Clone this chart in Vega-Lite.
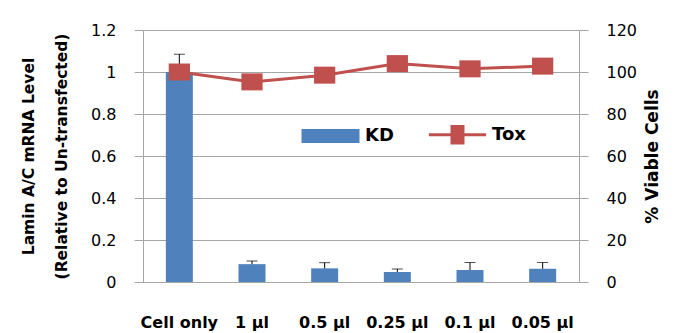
{
  "$schema": "https://vega.github.io/schema/vega-lite/v6.json",
  "width": 436,
  "height": 252,
  "autosize": "none",
  "padding": {"left": 143, "top": 30, "right": 95, "bottom": 51},
  "background": "white",
  "config": {
    "font": "DejaVu Sans",
    "view": {"stroke": null},
    "axis": {"labelColor": "#000000", "titleColor": "#000000"}
  },
  "data": {
    "values": [
      {"cond": "Cell only", "kd": 1.0, "kdErr": 1.085, "tox": 100},
      {"cond": "1 µl", "kd": 0.085, "kdErr": 0.1, "tox": 95.3},
      {"cond": "0.5 µl", "kd": 0.065, "kdErr": 0.092, "tox": 98.5},
      {"cond": "0.25 µl", "kd": 0.048, "kdErr": 0.062, "tox": 104},
      {"cond": "0.1 µl", "kd": 0.057, "kdErr": 0.093, "tox": 101.5},
      {"cond": "0.05 µl", "kd": 0.063, "kdErr": 0.093, "tox": 102.8}
    ]
  },
  "encoding": {
    "x": {
      "field": "cond",
      "type": "nominal",
      "sort": null,
      "scale": {"paddingInner": 0, "paddingOuter": 0},
      "axis": {
        "title": null,
        "labelAngle": 0,
        "ticks": false,
        "domainColor": "#A6A6A6",
        "labelFontWeight": "bold",
        "labelFontSize": 16,
        "labelPadding": 32
      }
    }
  },
  "layer": [
    {
      "layer": [
        {
          "mark": {"type": "bar", "size": 27},
          "encoding": {
            "y": {
              "field": "kd",
              "type": "quantitative",
              "scale": {"domain": [0, 1.2], "nice": false},
              "axis": {
                "orient": "left",
                "values": [0, 0.2, 0.4, 0.6, 0.8, 1, 1.2],
                "format": "~g",
                "title": ["Lamin A/C mRNA Level", "(Relative to Un-transfected)"],
                "titleFontWeight": "bold",
                "titleFontSize": 15.5,
                "titleLineHeight": 33,
                "titlePadding": 21,
                "grid": true,
                "gridColor": "#A6A6A6",
                "tickSize": 9,
                "tickColor": "#A6A6A6",
                "domainColor": "#A6A6A6",
                "labelFontSize": 16,
                "labelPadding": 18
              }
            },
            "color": {
              "datum": "KD",
              "type": "nominal",
              "scale": {"domain": ["KD", "Tox"], "range": ["#4F81BD", "#C0504D"]},
              "legend": {
                "title": null,
                "orient": "none",
                "direction": "horizontal",
                "legendX": 175,
                "legendY": 92,
                "padding": 0,
                "symbolSize": 484,
                "labelOffset": 22,
                "columnPadding": 28,
                "labelFontSize": 18,
                "labelFontWeight": "bold",
                "labelColor": "#000000",
                "labelFont": "DejaVu Sans",
                "encode": {
                  "symbols": {
                    "update": {
                      "shape": {"signal": "datum.value === 'KD' ? 'M-2.5,-0.5H2.5V0.5H-2.5Z' : 'M-2.6,0H2.6M-0.5,-0.75H0.5V0.75H-0.5Z'"},
                      "fill": {"signal": "datum.value === 'KD' ? '#4F81BD' : '#C0504D'"},
                      "stroke": {"signal": "datum.value === 'KD' ? '#4F81BD' : '#BE4B48'"},
                      "strokeWidth": {"value": 3},
                      "opacity": {"value": 1},
                      "fillOpacity": {"value": 1}
                    }
                  }
                }
              }
            }
          }
        },
        {
          "mark": {"type": "rule", "color": "#000000", "strokeWidth": 1},
          "encoding": {
            "y": {"field": "kd", "type": "quantitative"},
            "y2": {"field": "kdErr"}
          }
        },
        {
          "mark": {"type": "tick", "color": "#000000", "size": 11, "thickness": 1},
          "encoding": {
            "y": {"field": "kdErr", "type": "quantitative"}
          }
        }
      ]
    },
    {
      "layer": [
        {
          "mark": {"type": "line", "strokeWidth": 3},
          "encoding": {
            "y": {
              "field": "tox",
              "type": "quantitative",
              "scale": {"domain": [0, 120], "nice": false},
              "axis": {
                "orient": "right",
                "values": [0, 20, 40, 60, 80, 100, 120],
                "title": "% Viable Cells",
                "titleAngle": -90,
                "titleBaseline": "top",
                "titleFontWeight": "bold",
                "titleFontSize": 17,
                "titlePadding": 8,
                "grid": false,
                "tickSize": 9,
                "tickColor": "#A6A6A6",
                "domainColor": "#A6A6A6",
                "labelFontSize": 16,
                "labelPadding": 18
              }
            },
            "color": {"datum": "Tox", "type": "nominal"}
          }
        },
        {
          "mark": {"type": "point", "filled": true, "opacity": 1, "shape": "M-1.25,-1H1.25V1H-1.25Z", "size": 289},
          "encoding": {
            "y": {"field": "tox", "type": "quantitative"},
            "color": {"datum": "Tox", "type": "nominal"}
          }
        }
      ]
    }
  ],
  "resolve": {"scale": {"y": "independent"}}
}
